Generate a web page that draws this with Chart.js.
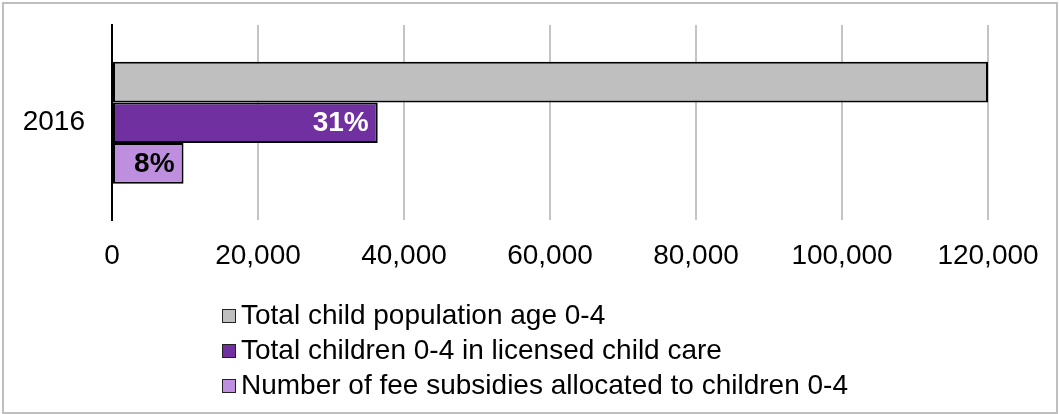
<!DOCTYPE html>
<html>
<head>
<meta charset="utf-8">
<script src="https://cdn.jsdelivr.net/npm/chart.js@4"></script>
<style>
  html, body { margin: 0; padding: 0; background: #fff; }
  #wrap { position: relative; width: 1059px; height: 414px; font-family: "Liberation Sans", Arial, sans-serif; }
  #frame { position: absolute; left: 2px; top: 2px; width: 1052px; height: 408px; border: 2px solid #bfbfbf; }
  #myChart { position: absolute; left: 0; top: 0; }
  #legend { position: absolute; left: 222px; top: 297px; font-size: 28px; color: #000; }
  .legend-item { height: 35px; line-height: 35px; white-space: nowrap; }
  .legend-box { display: inline-block; width: 12px; height: 12px; border: 1.5px solid #222; margin-right: 5px; vertical-align: 1px; }
</style>
</head>
<body>
<div id="wrap">
  <div id="frame"></div>
  <canvas id="myChart" width="1059" height="414"></canvas>
  <div id="legend"></div>
</div>
<script>
const categories = ["2016"];
const seriesNames = [
    "Total child population age 0-4",
    "Total children 0-4 in licensed child care",
    "Number of fee subsidies allocated to children 0-4"
];
const population = [120000];
const licensedCare = [36400];
const feeSubsidies = [9800];
const barLabels = ["", "31%", "8%"];
const barColors = ["#bfbfbf", "#7030a0", "#be8fde"];
const labelColors = ["#000000", "#ffffff", "#000000"];

const fontFamily = '"Liberation Sans", Arial, sans-serif';
Chart.defaults.font.family = fontFamily;
Chart.defaults.font.size = 28;
Chart.defaults.color = "#000000";

// percent labels at the inner end of each bar
const barLabelPlugin = {
    id: "barLabels",
    afterDatasetsDraw(chart) {
        const ctx = chart.ctx;
        ctx.save();
        ctx.font = "bold 28px " + fontFamily;
        ctx.textAlign = "right";
        ctx.textBaseline = "middle";
        chart.data.datasets.forEach((ds, i) => {
            const text = barLabels[i];
            if (!text) return;
            chart.getDatasetMeta(i).data.forEach((bar) => {
                ctx.fillStyle = labelColors[i];
                ctx.fillText(text, bar.x - 9, bar.y + 1);
            });
        });
        ctx.restore();
    }
};

const data = {
    labels: categories,
    datasets: [population, licensedCare, feeSubsidies].map((values, i) => ({
        label: seriesNames[i],
        data: values,
        backgroundColor: barColors[i],
        borderColor: "#000000",
        borderWidth: 2,
        borderSkipped: false,
        categoryPercentage: 0.624,
        barPercentage: 1.0,
    })),
};

const options = {
    indexAxis: "y",
    responsive: false,
    animation: false,
    layout: {
        padding: { left: 23, right: 71, top: 25, bottom: 122 }
    },
    plugins: {
        legend: { display: false },
        tooltip: { enabled: false }
    },
    scales: {
        x: {
            min: 0,
            max: 120000,
            ticks: {
                stepSize: 20000,
                padding: 19,
                maxRotation: 0,
                callback: (v) => v.toLocaleString("en-US"),
            },
            grid: {
                color: "#c4c4c4",
                lineWidth: 2,
                drawTicks: false,
            },
            border: { display: false },
        },
        y: {
            ticks: { padding: 27 },
            grid: { display: false, drawTicks: false },
            border: { display: true, color: "#000000", width: 2 },
            afterFit: (scale) => {
                scale.width = 89;
                scale.paddingTop = 0;
                scale.paddingBottom = 0;
            },
        },
    },
};

const chart = new Chart("myChart", { type: "bar", data, options, plugins: [barLabelPlugin] });

// legend as a vertical list under the plot
const legendEl = document.getElementById("legend");
chart.data.datasets.forEach((ds) => {
    const row = document.createElement("div");
    row.className = "legend-item";
    const box = document.createElement("span");
    box.className = "legend-box";
    box.style.background = ds.backgroundColor;
    row.appendChild(box);
    row.appendChild(document.createTextNode(ds.label));
    legendEl.appendChild(row);
});
</script>
</body>
</html>
